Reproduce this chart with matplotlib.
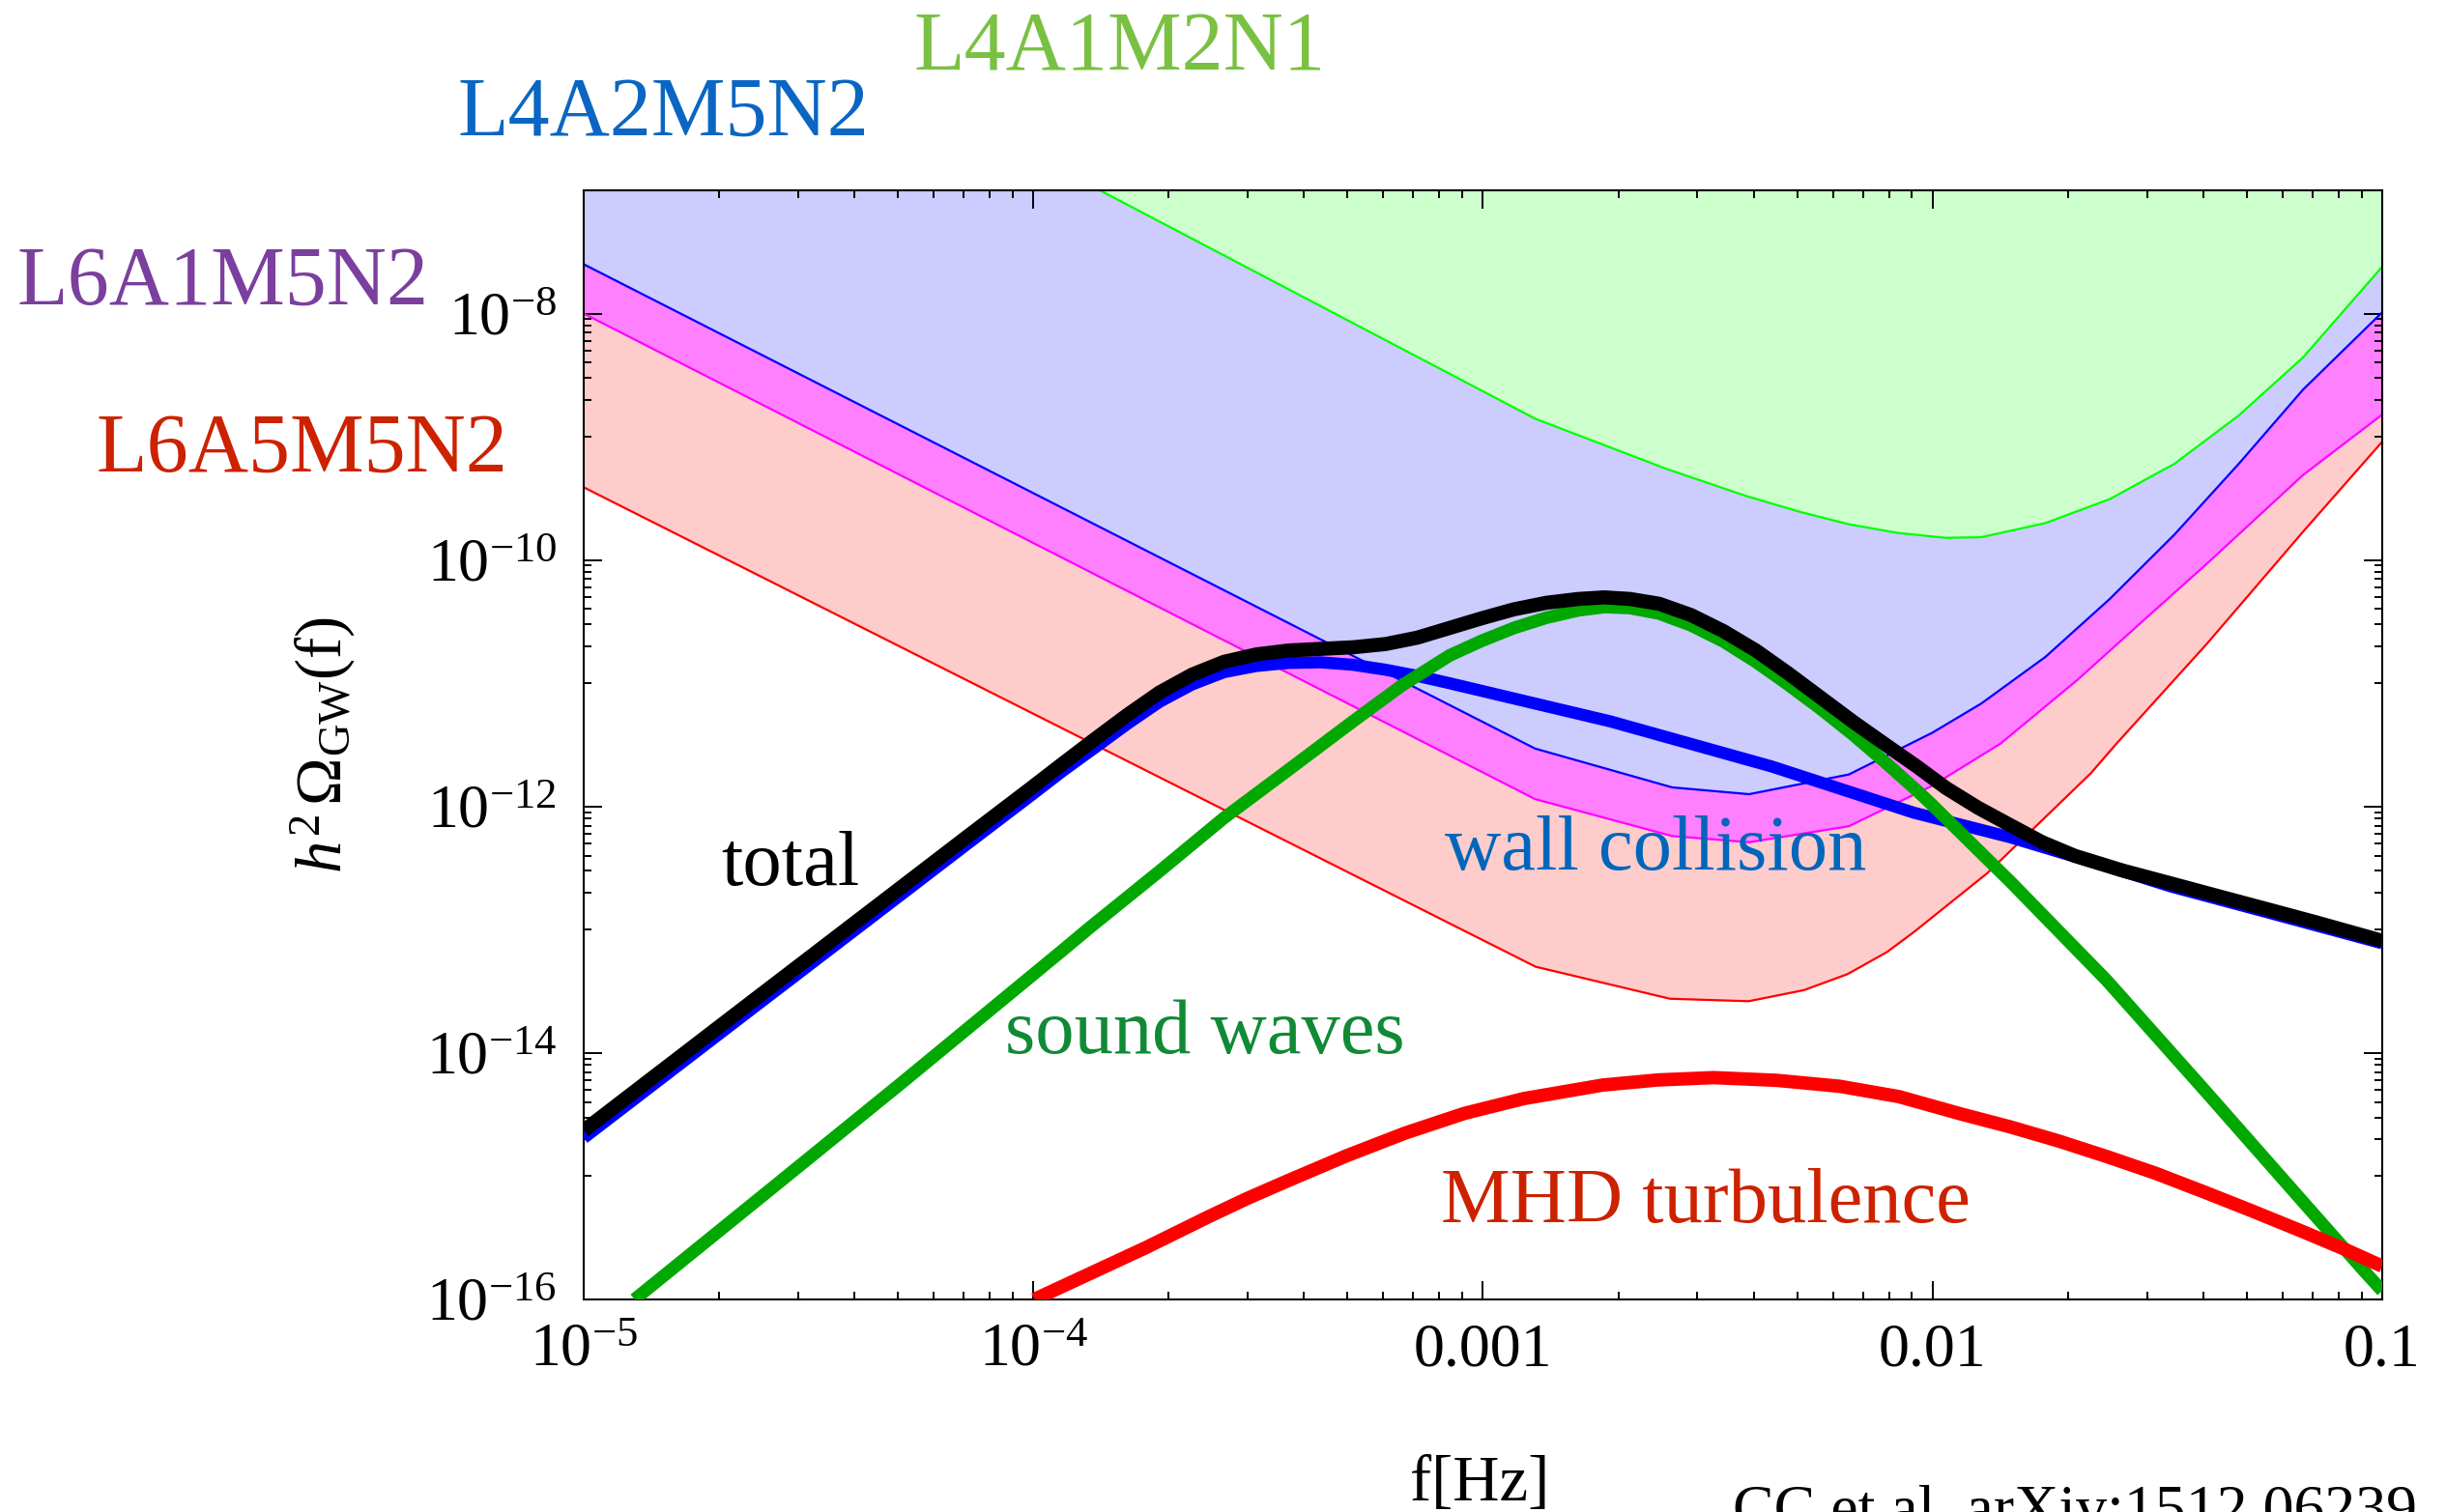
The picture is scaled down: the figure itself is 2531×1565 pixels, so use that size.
import numpy as np
import matplotlib.pyplot as plt
from matplotlib.ticker import FixedLocator, LogLocator, NullFormatter

plt.rcParams['font.family'] = ['Liberation Serif', 'DejaVu Serif']
plt.rcParams['mathtext.fontset'] = 'custom'
plt.rcParams['mathtext.rm'] = 'Liberation Serif'
plt.rcParams['mathtext.it'] = 'Liberation Serif:italic'
plt.rcParams['mathtext.bf'] = 'Liberation Serif:bold'

# spectra, stored as log10(f/Hz) and log10(h^2 Omega_GW)
total_lf = [-5.0, -4.65, -4.292, -4.149, -4.005, -3.934, -3.862, -3.791, -3.719, -3.647, -3.576,
            -3.504, -3.432, -3.361, -3.289, -3.217, -3.146, -3.074, -3.003, -2.931, -2.859,
            -2.788, -2.73, -2.673, -2.608, -2.537, -2.465, -2.393, -2.322, -2.25, -2.178,
            -2.107, -2.035, -1.97, -1.899, -1.828, -1.756, -1.684, -1.577, -1.469, -1.362,
            -1.254, -1.147, -1.0]
total_lo = [-14.63, -13.65, -12.65, -12.25, -11.85, -11.65, -11.45, -11.257, -11.074, -10.93, -10.826,
            -10.766, -10.734, -10.721, -10.708, -10.682, -10.63, -10.551, -10.473, -10.40, -10.347,
            -10.316, -10.303, -10.316, -10.355, -10.447, -10.577, -10.734, -10.917, -11.113, -11.309,
            -11.492, -11.675, -11.85, -12.01, -12.15, -12.29, -12.40, -12.52, -12.625, -12.73,
            -12.835, -12.94, -13.09]

wall_lf = [-5.0, -4.65, -4.292, -4.149, -4.005, -3.934, -3.862, -3.791, -3.719, -3.647, -3.576,
           -3.504, -3.433, -3.361, -3.289, -3.217, -3.146, -3.074, -2.716, -2.358, -2.042,
           -1.827, -1.613, -1.469, -1.254, -1.0]
wall_lo = [-14.69, -13.71, -12.71, -12.31, -11.91, -11.71, -11.52, -11.33, -11.15, -11.01, -10.91,
           -10.86, -10.835, -10.83, -10.85, -10.89, -10.94, -11.0, -11.31, -11.675, -12.05,
           -12.25, -12.485, -12.65, -12.86, -13.11]

sound_lf = [-4.887, -4.579, -4.292, -3.934, -3.877, -3.719, -3.576, -3.432, -3.289, -3.182, -3.074,
            -3.003, -2.931, -2.859, -2.788, -2.73, -2.673, -2.608, -2.537, -2.465, -2.393,
            -2.322, -2.25, -2.178, -2.107, -2.035, -2.0, -1.827, -1.613, -1.398, -1.183,
            -1.04, -1.0]
sound_lo = [-16.0, -15.09, -14.24, -13.164, -12.99, -12.524, -12.093, -11.701, -11.309, -11.022, -10.774,
            -10.656, -10.551, -10.468, -10.408, -10.381, -10.389, -10.434, -10.53, -10.661, -10.826,
            -11.009, -11.205, -11.414, -11.636, -11.87, -11.99, -12.61, -13.41, -14.29, -15.18,
            -15.77, -15.93]

mhd_lf = [-3.998, -3.75, -3.611, -3.524, -3.436, -3.304, -3.173, -3.041, -2.909, -2.733, -2.611,
          -2.487, -2.347, -2.207, -2.075, -1.935, -1.827, -1.72, -1.613, -1.505, -1.398,
          -1.29, -1.183, -1.09, -1.0]
mhd_lo = [-16.0, -15.58, -15.33, -15.18, -15.04, -14.835, -14.65, -14.49, -14.37, -14.26, -14.219,
          -14.20, -14.222, -14.27, -14.354, -14.497, -14.60, -14.714, -14.84, -14.975, -15.125,
          -15.281, -15.44, -15.582, -15.73]

# sensitivity curves of the eLISA configurations
l4a1m2n1_lf = [-3.852, -2.884, -2.594, -2.415, -2.293, -2.186, -2.078, -1.971, -1.892, -1.749,
               -1.606, -1.462, -1.319, -1.176, -1.0]
l4a1m2n1_lo = [-7.0, -8.853, -9.258, -9.48, -9.611, -9.71, -9.78, -9.82, -9.815, -9.70,
               -9.506, -9.219, -8.827, -8.356, -7.62]

l4a2m5n2_lf = [-5.0, -2.884, -2.579, -2.408, -2.186, -2.0, -1.892, -1.749, -1.606, -1.462,
               -1.319, -1.176, -1.0]
l4a2m5n2_lo = [-7.60, -11.53, -11.845, -11.90, -11.74, -11.40, -11.165, -10.786, -10.316, -9.793,
               -9.219, -8.617, -7.99]

l6a1m5n2_lf = [-5.0, -2.884, -2.579, -2.408, -2.186, -2.0, -1.849, -1.677, -1.534, -1.39,
               -1.176, -1.0]
l6a1m5n2_lo = [-8.0, -11.94, -12.24, -12.29, -12.16, -11.83, -11.49, -10.97, -10.50, -10.03,
               -9.31, -8.82]

l6a5m5n2_lf = [-5.0, -2.883, -2.584, -2.409, -2.286, -2.189, -2.101, -2.042, -1.878, -1.648,
               -1.591, -1.39, -1.176, -1.0]
l6a5m5n2_lo = [-9.41, -13.30, -13.56, -13.58, -13.49, -13.36, -13.18, -13.02, -12.54, -11.73,
               -11.49, -10.68, -9.77, -9.04]

x_ticks = [1e-5, 1e-4, 1e-3, 1e-2, 1e-1]
x_ticklabels = [r'$10^{-5}$', r'$10^{-4}$', '0.001', '0.01', '0.1']
y_ticks = [1e-16, 1e-14, 1e-12, 1e-10, 1e-8]
y_ticklabels = [r'$10^{-16}$', r'$10^{-14}$', r'$10^{-12}$', r'$10^{-10}$', r'$10^{-8}$']
y_minor = [m * 10.0 ** n for n in (-15, -13, -11, -9) for m in range(1, 10)]

YTOP = 1e-7


def p(lf, lo):
    return 10 ** np.array(lf), 10 ** np.array(lo)


fig = plt.figure(figsize=(25.31, 15.65), dpi=100)
ax = fig.add_axes([0.23864, 0.14058, 0.73528, 0.73355])
ax.set_xscale('log')
ax.set_yscale('log')

# shaded bands, widest first
bands = [(l6a5m5n2_lf, l6a5m5n2_lo, '#ffcccc', '#ff0000'),
         (l6a1m5n2_lf, l6a1m5n2_lo, '#ff80ff', '#ff00ff'),
         (l4a2m5n2_lf, l4a2m5n2_lo, '#ccccff', '#0000ff'),
         (l4a1m2n1_lf, l4a1m2n1_lo, '#ccffcc', '#00ff00')]
for lf, lo, fc, lc in bands:
    x, y = p(lf, lo)
    ax.fill_between(x, y, YTOP, color=fc, lw=0, zorder=1)
for lf, lo, fc, lc in bands:
    x, y = p(lf, lo)
    ax.plot(x, y, color=lc, lw=1.6, zorder=2, solid_joinstyle='round')

thick = dict(solid_capstyle='butt', solid_joinstyle='round')
ax.plot(*p(wall_lf, wall_lo), color='#0000ff', lw=9, zorder=3, **thick)
ax.plot(*p(sound_lf, sound_lo), color='#00a800', lw=9.5, zorder=4, **thick)
ax.plot(*p(mhd_lf, mhd_lo), color='#ff0000', lw=10, zorder=5, **thick)
ax.plot(*p(total_lf, total_lo), color='black', lw=10.5, zorder=6, **thick)

ax.set_xlim(1e-5, 1e-1)
ax.set_ylim(1e-16, YTOP)

ax.xaxis.set_major_locator(FixedLocator(x_ticks))
ax.set_xticklabels(x_ticklabels)
ax.xaxis.set_minor_locator(LogLocator(base=10, subs=np.arange(2, 10)))
ax.xaxis.set_minor_formatter(NullFormatter())
ax.yaxis.set_major_locator(FixedLocator(y_ticks))
ax.set_yticklabels(y_ticklabels)
ax.yaxis.set_minor_locator(FixedLocator(y_minor))
ax.yaxis.set_minor_formatter(NullFormatter())

ax.tick_params(which='both', direction='in', top=True, right=True, width=1.4)
ax.tick_params(which='major', length=14, labelsize=46)
ax.tick_params(which='minor', length=6)
ax.tick_params(axis='x', which='major', pad=18)
ax.tick_params(axis='y', which='major', pad=20)
for s in ax.spines.values():
    s.set_linewidth(1.5)

# curve names inside the plot
ax.text(10 ** -4.695, 10 ** -12.637, 'total', color='black', fontsize=58, zorder=7)
ax.text(10 ** -3.085, 10 ** -12.511, 'wall collision', color='#0066bb', fontsize=58, zorder=7)
ax.text(10 ** -4.063, 10 ** -14.0, 'sound waves', color='#108a35', fontsize=58, zorder=7)
ax.text(10 ** -3.094, 10 ** -15.373, 'MHD turbulence', color='#cc2200', fontsize=58, zorder=7)

# configuration names outside the axes
fig.text(0.3734, 0.9534, 'L4A1M2N1', color='#7ac143', fontsize=62)
fig.text(0.1869, 0.9105, 'L4A2M5N2', color='#0a66c2', fontsize=62)
fig.text(0.0071, 0.7987, 'L6A1M5N2', color='#7b3f9e', fontsize=62)
fig.text(0.0395, 0.6882, 'L6A5M5N2', color='#cc2200', fontsize=62)

fig.text(0.132, 0.507, r'$h^2\,\Omega_{\mathrm{GW}}(\mathrm{f})$', rotation=90,
         ha='center', va='center', fontsize=48)
fig.text(0.605, 0.0377, 'f[Hz]', ha='center', va='top', fontsize=48)
# citation runs off the lower right corner of the canvas
fig.text(0.7084, 0.0179, 'CC et al. arXiv:1512.06239', ha='left', va='top', fontsize=46)

fig.savefig('out.png', dpi=100)
